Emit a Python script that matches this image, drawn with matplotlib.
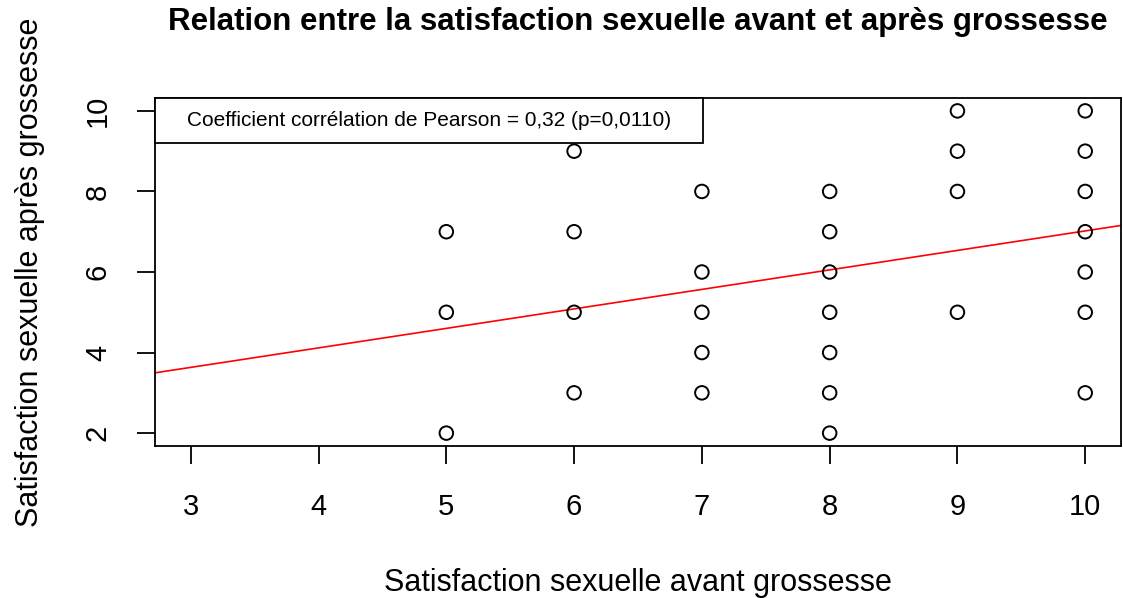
import matplotlib
matplotlib.use('Agg')
import matplotlib.pyplot as plt
from matplotlib.patches import Rectangle

plt.rcParams['font.family'] = ['Liberation Sans', 'DejaVu Sans']

# satisfaction before / after pregnancy (unique points visible on the chart)
avant = [5, 5, 5,
         6, 6, 6, 6,
         7, 7, 7, 7, 7,
         8, 8, 8, 8, 8, 8, 8,
         9, 9, 9, 9,
         10, 10, 10, 10, 10, 10, 10]
apres = [7, 5, 2,
         9, 7, 5, 3,
         8, 6, 5, 4, 3,
         8, 7, 6, 5, 4, 3, 2,
         10, 9, 8, 5,
         10, 9, 8, 7, 6, 5, 3]

# regression line
intercept = 2.18
slope = 0.484

x_ticks = [3, 4, 5, 6, 7, 8, 9, 10]
y_ticks = [2, 4, 6, 8, 10]

fig = plt.figure(figsize=(11.23, 5.98), dpi=100)
ax = fig.add_axes([155 / 1123, 1 - 446 / 598, (1121 - 155) / 1123, (446 - 98) / 598])

ax.scatter(avant, apres, s=95, facecolors='none', edgecolors='black', linewidths=1.4, zorder=3)
ax.axline((0, intercept), slope=slope, color='red', linewidth=1.2, zorder=2)

ax.set_xlim(2.72, 10.28)
ax.set_ylim(1.68, 10.32)
ax.set_xticks(x_ticks)
ax.set_yticks(y_ticks)
ax.set_yticklabels([str(v) for v in y_ticks], rotation=90, va='center')
ax.tick_params(axis='both', length=13, width=1.3, labelsize=21)
ax.tick_params(axis='x', pad=20.5)
ax.tick_params(axis='y', pad=18)
for sp in ax.spines.values():
    sp.set_linewidth(1.3)

ax.set_xlabel('Satisfaction sexuelle avant grossesse', fontsize=22, labelpad=34)
ax.set_ylabel('Satisfaction sexuelle après grossesse', fontsize=22, labelpad=28)
fig.text((155 + 1121) / 2 / 1123, 1 - 22 / 598,
         'Relation entre la satisfaction sexuelle avant et après grossesse',
         fontsize=22.5, fontweight='bold', ha='center', va='center')

# legend box with the Pearson coefficient
bw, bh = 0.567, 0.129
ax.add_patch(Rectangle((0, 1 - bh), bw, bh, transform=ax.transAxes, facecolor='white',
                       edgecolor='black', linewidth=1.3, zorder=4, clip_on=False))
ax.text(bw / 2, 1 - bh / 2, 'Coefficient corrélation de Pearson = 0,32 (p=0,0110)',
        transform=ax.transAxes, ha='center', va='center', fontsize=15, zorder=5)

fig.savefig('out.png', dpi=100)
